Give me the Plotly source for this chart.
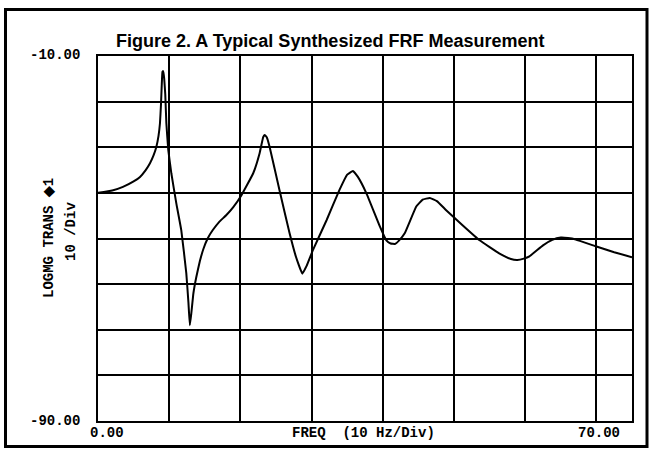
import plotly.graph_objects as go

# Data
freq = [0, 2, 3.5, 5, 5.9, 6.7, 7.3, 7.8, 8.2, 8.5, 8.7, 8.85, 8.95, 9.05, 9.15, 9.3, 9.45,
        9.6, 9.87, 10.3, 11.0, 11.7, 12.4, 12.7, 12.9, 13.1, 13.4, 13.8, 14.3, 14.8, 15.4,
        16.1, 17.0, 18.0, 19.0, 20.15, 21.8, 22.7, 23.2, 23.4, 23.7, 24.1, 25.5, 26.9, 27.8,
        28.7, 29.3, 30.2, 32.1, 33.9, 35.0, 35.8, 36.5, 37.7, 39.6, 40.5, 41.1, 41.7, 42.3,
        43.1, 44.7, 45.6, 46.6, 47.6, 48.9, 51.2, 53.6, 56.4, 58.0, 58.9, 59.8, 60.6, 62.5,
        63.8, 65.0, 66.0, 67.1, 69.9, 72.5, 75.0]
mag = [-40.0, -39.5, -38.7, -37.5, -36.5, -35.0, -33.5, -31.8, -29.9, -27.5, -24.8, -20.5,
       -16.5, -13.5, -13.3, -15.0, -18.5, -24.7, -30.6, -35.7, -42.3, -48.2, -57.6, -64.0,
       -69.0, -66.5, -62.0, -58.5, -55.0, -52.3, -50.0, -48.2, -46.4, -44.9, -43.1, -40.5,
       -35.7, -31.3, -27.8, -27.3, -27.8, -29.9, -39.5, -48.8, -54.0, -57.7, -56.0, -52.5,
       -46.0, -39.4, -36.0, -35.2, -36.5, -40.1, -47.4, -50.4, -51.1, -51.2, -50.4, -48.8,
       -43.0, -41.5, -41.1, -41.8, -43.8, -47.1, -50.4, -53.3, -54.5, -54.7, -54.4, -53.9,
       -51.5, -50.3, -49.8, -49.9, -50.2, -51.7, -53.0, -54.1]

x_ticks = [0, 10, 20, 30, 40, 50, 60, 70]
y_ticks = [-90, -80, -70, -60, -50, -40, -30, -20, -10]
x_labels = ["0.00", "70.00"]
y_labels = ["-10.00", "-90.00"]
title_text = "Figure 2. A Typical Synthesized FRF Measurement"
xaxis_title = "FREQ\u00a0\u00a0(10 Hz/Div)"
yaxis_title1 = "LOGMG TRANS \u25c61"
yaxis_title2 = "10 /Div"

W, H = 653, 449
L, R, T, B = 98, 21, 56, 28
pw, ph = W - L - R, H - T - B

def px_x(p):
    return (p - L) / pw

def px_y(p):
    return (H - B - p) / ph

mono = dict(family="Liberation Mono", size=14, color="black")

fig = go.Figure()
fig.add_trace(go.Scatter(x=freq, y=mag, mode="lines",
                         line=dict(color="black", width=2, shape="spline", smoothing=0.3),
                         hoverinfo="skip", showlegend=False))

fig.update_layout(
    width=W, height=H,
    margin=dict(l=L, r=R, t=T, b=B),
    paper_bgcolor="white", plot_bgcolor="white",
    showlegend=False,
    xaxis=dict(range=[0, 75], tickvals=x_ticks, showticklabels=False, showgrid=True,
               gridcolor="black", gridwidth=1.5, zeroline=False, showline=True,
               linecolor="black", linewidth=2, mirror=True, ticks=""),
    yaxis=dict(range=[-90, -10], tickvals=y_ticks, showticklabels=False, showgrid=True,
               gridcolor="black", gridwidth=1.5, zeroline=False, showline=True,
               linecolor="black", linewidth=2, mirror=True, ticks=""),
    shapes=[dict(type="rect", xref="paper", yref="paper",
                 x0=px_x(5.5), x1=px_x(647), y0=px_y(446.5), y1=px_y(9.5),
                 line=dict(color="black", width=3), layer="below")],
)

ann = []
ann.append(dict(text="<b>" + title_text + "</b>", xref="paper", yref="paper",
                x=px_x(330), y=px_y(41), showarrow=False, xanchor="center", yanchor="middle",
                font=dict(family="Liberation Sans", size=18, color="black")))
ann.append(dict(text="<b>" + y_labels[0] + "</b>", xref="paper", yref="y", x=px_x(82), y=-10,
                yshift=1, showarrow=False, xanchor="right", yanchor="middle", font=mono))
ann.append(dict(text="<b>" + y_labels[1] + "</b>", xref="paper", yref="y", x=px_x(82), y=-90,
                showarrow=False, xanchor="right", yanchor="middle", font=mono))
ann.append(dict(text="<b>" + x_labels[0] + "</b>", xref="x", yref="paper", x=x_ticks[0],
                xshift=9, y=px_y(433), showarrow=False, xanchor="center", yanchor="middle",
                font=mono))
ann.append(dict(text="<b>" + x_labels[1] + "</b>", xref="x", yref="paper", x=x_ticks[-1],
                xshift=3, y=px_y(433), showarrow=False, xanchor="center", yanchor="middle",
                font=mono))
ann.append(dict(text="<b>" + xaxis_title + "</b>", xref="paper", yref="paper", x=px_x(363),
                y=px_y(433), showarrow=False, xanchor="center", yanchor="middle", font=mono))
ann.append(dict(text="<b>" + yaxis_title1 + "</b>", xref="paper", yref="paper", x=px_x(49),
                y=px_y(238), showarrow=False, xanchor="center", yanchor="middle",
                textangle=-90, font=mono))
ann.append(dict(text="<b>" + yaxis_title2 + "</b>", xref="paper", yref="paper", x=px_x(71),
                y=px_y(232), showarrow=False, xanchor="center", yanchor="middle",
                textangle=-90, font=mono))
fig.update_layout(annotations=ann)

fig.write_html("out.html", config={"displayModeBar": False},
               post_script="document.body.style.margin='0';document.body.style.overflow='hidden';")
